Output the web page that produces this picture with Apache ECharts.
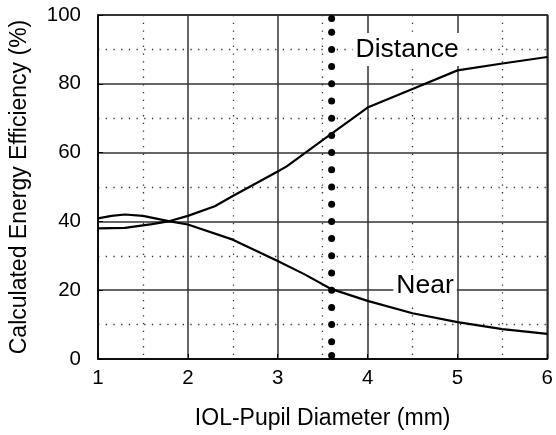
<!DOCTYPE html>
<html>
<head>
<meta charset="utf-8">
<script src="https://cdn.jsdelivr.net/npm/echarts@6/dist/echarts.min.js"></script>
<style>
  html, body { margin: 0; padding: 0; background: #fff; }
  #chart { width: 556px; height: 435px; }
</style>
</head>
<body>
<div id="chart"></div>
<script>
// values
var distanceX = [1, 1.3, 1.6, 1.8, 2, 2.3, 2.5, 3, 3.1, 3.5, 4, 4.5, 5, 5.5, 6];
var distanceY = [38, 38.1, 39.2, 40.1, 41.6, 44.4, 47.4, 54.5, 56, 63.6, 73.1, 78.5, 83.9, 85.9, 87.8];
var nearX = [1, 1.15, 1.3, 1.5, 1.8, 2, 2.5, 3, 3.3, 3.6, 4, 4.5, 5, 5.5, 6];
var nearY = [40.9, 41.6, 42, 41.6, 40, 39.1, 34.7, 28.5, 24.6, 20.3, 16.9, 13.3, 10.7, 8.7, 7.3];
var pupilX = 3.6;  // vertical dotted marker
var pupilDotsY = [1, 5, 10, 15, 20, 25, 30, 35, 40, 45, 50, 55, 60, 65, 70, 75, 80, 85, 90, 95, 99];
var curveNames = ['Distance', 'Near'];
var curveLabelPos = [[4.44, 90], [4.64, 21.2]];

function pairs(xs, ys) {
  return xs.map(function (x, i) { return [x, ys[i]]; });
}

var font = 'Liberation Sans, Arial, sans-serif';
var chart = echarts.init(document.getElementById('chart'));
chart.setOption({
  animation: false,
  grid: {
    left: 90, right: 5, top: 15, bottom: 73,
    show: true, borderColor: '#000', borderWidth: 1.5
  },
  xAxis: {
    type: 'value', min: 1, max: 6, interval: 1,
    name: 'IOL-Pupil Diameter (mm)', nameLocation: 'middle', nameGap: 48,
    nameTextStyle: { fontFamily: font, fontSize: 23, color: '#000' },
    axisLine: { lineStyle: { color: '#000', width: 1.5 } },
    axisTick: { inside: true, length: 5, lineStyle: { color: '#000' } },
    axisLabel: { fontFamily: font, fontSize: 20.5, color: '#000', margin: 9 },
    splitLine: { lineStyle: { color: '#333', width: 1.5 } },
    minorTick: { show: true, splitNumber: 2, length: 0 },
    minorSplitLine: { show: true, lineStyle: { color: '#333', width: 1.3, type: [1.3, 6.4] } }
  },
  yAxis: {
    type: 'value', min: 0, max: 100, interval: 20,
    name: 'Calculated Energy Efficiency (%)', nameLocation: 'middle', nameGap: 67,
    nameTextStyle: { fontFamily: font, fontSize: 23, color: '#000' },
    axisLine: { show: true, lineStyle: { color: '#000', width: 1.5 } },
    axisTick: { inside: true, length: 5, lineStyle: { color: '#000' } },
    axisLabel: { fontFamily: font, fontSize: 20.5, color: '#000', margin: 17 },
    splitLine: { lineStyle: { color: '#333', width: 1.5 } },
    minorTick: { show: true, splitNumber: 2, length: 0 },
    minorSplitLine: { show: true, lineStyle: { color: '#333', width: 1.3, type: [1.3, 6.4] } }
  },
  series: [
    {
      name: curveNames[0], type: 'line', data: pairs(distanceX, distanceY),
      showSymbol: false, smooth: false, z: 3,
      lineStyle: { color: '#000', width: 2.2 }
    },
    {
      name: curveNames[1], type: 'line', data: pairs(nearX, nearY),
      showSymbol: false, smooth: false, z: 3,
      lineStyle: { color: '#000', width: 2.2 }
    },
    {
      type: 'scatter', z: 4, symbolSize: 7,
      data: pupilDotsY.map(function (y) { return [pupilX, y]; }),
      itemStyle: { color: '#000', opacity: 1 }
    },
    {
      type: 'scatter', z: 5, symbolSize: 0,
      data: curveLabelPos.map(function (p, i) { return { value: p, name: curveNames[i] }; }),
      itemStyle: { opacity: 1 },
      label: {
        show: true, position: 'inside', formatter: '{b}',
        fontFamily: font, fontSize: 26.5, color: '#000',
        backgroundColor: '#fff', padding: [3, 3]
      }
    }
  ]
});
</script>
</body>
</html>
